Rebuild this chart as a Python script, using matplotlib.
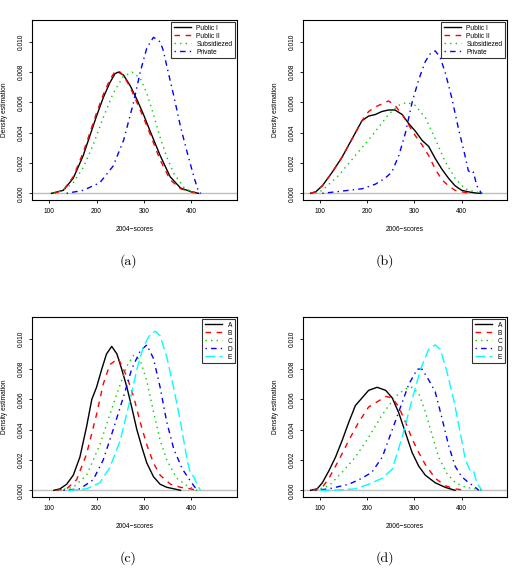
import matplotlib
matplotlib.use("Agg")
import matplotlib.pyplot as plt

plt.rcParams['font.family'] = ['Liberation Sans', 'DejaVu Sans']

# ---- panel (a): 2004 scores by school type
a_pub1_x = [105, 130, 151, 172, 186, 200, 214, 228, 239, 246, 257, 271, 285, 299, 313, 334, 355, 377, 400, 415]
a_pub1_y = [0, 0.0002, 0.0010, 0.0025, 0.0038, 0.0051, 0.0063, 0.0073, 0.0079, 0.0080, 0.0078, 0.0071,
            0.0062, 0.0052, 0.0041, 0.0025, 0.0011, 0.00035, 0.0001, 0]
a_pub2_x = [110, 130, 151, 172, 186, 200, 214, 228, 240, 250, 260, 271, 285, 299, 313, 334, 355, 377, 400, 420]
a_pub2_y = [0, 0.0002, 0.0011, 0.0027, 0.0040, 0.0053, 0.0065, 0.0075, 0.0081, 0.0080, 0.0076, 0.0070,
            0.0060, 0.0050, 0.0039, 0.0022, 0.0009, 0.0003, 0.0001, 0]
a_sub_x = [110, 130, 151, 172, 193, 214, 235, 256, 275, 292, 306, 320, 334, 348, 363, 384, 405]
a_sub_y = [0, 0.0002, 0.0007, 0.0017, 0.0032, 0.0050, 0.0066, 0.0077, 0.0080, 0.0076, 0.0066, 0.0052,
           0.0037, 0.0024, 0.0013, 0.0004, 0]
a_priv_x = [137, 172, 207, 235, 257, 278, 292, 306, 320, 334, 341, 348, 363, 377, 391, 405, 415, 420]
a_priv_y = [0, 0.0002, 0.0007, 0.0018, 0.0035, 0.0060, 0.0080, 0.0096, 0.0103, 0.0100, 0.0094, 0.0084,
            0.0064, 0.0044, 0.0027, 0.0011, 0.0001, 0]

# ---- panel (b): 2006 scores by school type
b_pub1_x = [80, 91, 105, 126, 147, 168, 189, 203, 217, 231, 245, 259, 274, 288, 302, 316, 330, 344, 358,
            372, 386, 400, 414, 428, 440]
b_pub1_y = [0, 0.0001, 0.0005, 0.0014, 0.0024, 0.0036, 0.0048, 0.0051, 0.0052, 0.0054, 0.0055, 0.0055,
            0.0052, 0.0046, 0.0041, 0.0035, 0.0031, 0.0023, 0.0016, 0.0010, 0.0005, 0.0002, 0.0001,
            0.00003, 0]
b_pub2_x = [80, 91, 105, 126, 147, 168, 189, 203, 217, 231, 245, 259, 274, 288, 302, 316, 330, 344, 358,
            372, 386, 400, 420]
b_pub2_y = [0, 0.0001, 0.0005, 0.0014, 0.0024, 0.0036, 0.0048, 0.0054, 0.0057, 0.0059, 0.0061, 0.0058,
            0.0052, 0.0045, 0.0038, 0.0032, 0.0025, 0.0016, 0.0009, 0.0005, 0.0002, 0.0001, 0]
b_sub_x = [90, 105, 140, 175, 210, 245, 266, 284, 302, 323, 344, 365, 386, 407, 428, 445]
b_sub_y = [0, 0.0002, 0.0012, 0.0025, 0.0038, 0.0052, 0.0058, 0.0060, 0.0058, 0.0050, 0.0036, 0.0021,
           0.0010, 0.0003, 0.0001, 0]
b_priv_x = [105, 161, 189, 217, 238, 252, 267, 281, 295, 309, 323, 333, 344, 354, 365, 379, 393, 407,
            414, 421, 425, 432, 442]
b_priv_y = [0, 0.0002, 0.0003, 0.0006, 0.0010, 0.0014, 0.0025, 0.0040, 0.0060, 0.0075, 0.0087, 0.0092,
            0.0094, 0.0090, 0.0080, 0.0063, 0.0043, 0.0025, 0.0015, 0.0013, 0.0014, 0.0005, 0]

# ---- panel (c): 2004 scores by group A-E
c_A_x = [110, 123, 137, 151, 165, 179, 190, 200, 211, 221, 232, 243, 253, 264, 274, 285, 296, 306, 320,
         334, 348, 363, 377]
c_A_y = [0, 0.0001, 0.0004, 0.0010, 0.0022, 0.0042, 0.0060, 0.0068, 0.0080, 0.0090, 0.0095, 0.0090,
         0.0080, 0.0068, 0.0055, 0.0040, 0.0028, 0.0018, 0.0009, 0.0004, 0.0002, 0.0001, 0]
c_B_x = [115, 137, 158, 179, 200, 214, 228, 246, 264, 278, 292, 306, 320, 334, 356, 377, 398, 412]
c_B_y = [0, 0.0001, 0.0007, 0.0024, 0.0050, 0.0070, 0.0083, 0.0087, 0.0075, 0.0062, 0.0045, 0.0030,
         0.0018, 0.0010, 0.0004, 0.0002, 0.0001, 0]
c_C_x = [120, 151, 179, 207, 228, 250, 264, 278, 292, 306, 320, 334, 348, 369, 391, 412]
c_C_y = [0, 0.0002, 0.0010, 0.0030, 0.0050, 0.0070, 0.0082, 0.0089, 0.0086, 0.0072, 0.0052, 0.0033,
         0.0020, 0.0008, 0.0003, 0]
c_D_x = [130, 165, 193, 214, 235, 257, 274, 292, 306, 320, 334, 348, 363, 381, 398, 412]
c_D_y = [0, 0.0001, 0.0007, 0.0020, 0.0040, 0.0062, 0.0080, 0.0092, 0.0096, 0.0087, 0.0068, 0.0045,
         0.0027, 0.0014, 0.0006, 0]
c_E_x = [140, 179, 207, 228, 250, 271, 285, 299, 313, 324, 334, 348, 363, 377, 391, 398, 405, 412, 419]
c_E_y = [0, 0.0001, 0.0005, 0.0015, 0.0033, 0.0060, 0.0080, 0.0095, 0.0103, 0.0105, 0.0102, 0.0088,
         0.0067, 0.0045, 0.0020, 0.0011, 0.0009, 0.0004, 0]

# ---- panel (d): 2006 scores by group A-E
d_A_x = [80, 94, 105, 119, 133, 147, 161, 175, 189, 203, 221, 239, 253, 267, 281, 295, 309, 323, 344,
         365, 386]
d_A_y = [0, 0.0001, 0.0005, 0.0013, 0.0022, 0.0033, 0.0045, 0.0056, 0.0061, 0.0066, 0.0068, 0.0066,
         0.0061, 0.0051, 0.0038, 0.0025, 0.0016, 0.0010, 0.0005, 0.0002, 0]
d_B_x = [85, 105, 119, 140, 161, 182, 203, 224, 239, 253, 267, 281, 295, 309, 323, 344, 365, 386, 408]
d_B_y = [0, 0.0002, 0.0008, 0.0020, 0.0033, 0.0045, 0.0055, 0.0059, 0.0062, 0.0061, 0.0055, 0.0045,
         0.0034, 0.0025, 0.0017, 0.0008, 0.0003, 0.0001, 0]
d_C_x = [90, 119, 147, 175, 203, 232, 260, 281, 295, 309, 323, 337, 351, 369, 387, 408, 429, 443]
d_C_y = [0, 0.0003, 0.0012, 0.0022, 0.0035, 0.0050, 0.0062, 0.0067, 0.0068, 0.0064, 0.0052, 0.0037,
         0.0022, 0.0011, 0.0005, 0.0002, 0.0001, 0]
d_D_x = [90, 119, 161, 189, 210, 232, 253, 274, 288, 306, 316, 330, 344, 358, 372, 386, 400, 415, 429, 436]
d_D_y = [0, 0.0001, 0.0004, 0.0008, 0.0012, 0.0022, 0.0040, 0.0058, 0.0070, 0.0080, 0.0080, 0.0073,
         0.0065, 0.0048, 0.0030, 0.0016, 0.0009, 0.0005, 0.0002, 0]
d_E_x = [100, 126, 175, 203, 232, 253, 274, 295, 313, 330, 344, 355, 369, 383, 397, 408, 418, 425, 432, 443]
d_E_y = [0, 0, 0.0001, 0.0004, 0.0008, 0.0014, 0.0035, 0.0060, 0.0080, 0.0093, 0.0096, 0.0093, 0.0078,
         0.0060, 0.0038, 0.0020, 0.0013, 0.0013, 0.0005, 0]

school_labels = ["Public I", "Public II", "Subsidiezed", "Private"]
group_labels = ["A", "B", "C", "D", "E"]
panel_tags = ["(a)", "(b)", "(c)", "(d)"]
xlabels = ["2004\u2212scores", "2006\u2212scores", "2004\u2212scores", "2006\u2212scores"]

# R default palette and line types
colors = ["black", "#FF0000", "#00CD00", "#0000FF", "#00FFFF"]
ltys = ["-", (0, (4, 4)), (0, (1, 3)), (0, (1, 3, 4, 3)), (0, (7, 3))]

panels = [
    ([(a_pub1_x, a_pub1_y), (a_pub2_x, a_pub2_y), (a_sub_x, a_sub_y), (a_priv_x, a_priv_y)], school_labels),
    ([(b_pub1_x, b_pub1_y), (b_pub2_x, b_pub2_y), (b_sub_x, b_sub_y), (b_priv_x, b_priv_y)], school_labels),
    ([(c_A_x, c_A_y), (c_B_x, c_B_y), (c_C_x, c_C_y), (c_D_x, c_D_y), (c_E_x, c_E_y)], group_labels),
    ([(d_A_x, d_A_y), (d_B_x, d_B_y), (d_C_x, d_C_y), (d_D_x, d_D_y), (d_E_x, d_E_y)], group_labels),
]

W, H = 513, 570
fig = plt.figure(figsize=(W / 100, H / 100), dpi=100)

# axes boxes in pixels: left, top, right, bottom
boxes = [(32, 20, 237, 200), (303, 20, 507, 200), (32, 317, 237, 497), (303, 317, 507, 497)]
tag_pos = [(0.25, 261), (0.75, 261), (0.25, 558), (0.75, 558)]

for i, (series, labels) in enumerate(panels):
    l, t, r, b = boxes[i]
    ax = fig.add_axes([l / W, 1 - b / H, (r - l) / W, (b - t) / H])
    ax.axhline(0, color="#BEBEBE", lw=1, zorder=1)
    for k, (xs, ys) in enumerate(series):
        ax.plot(xs, ys, color=colors[k], linestyle=ltys[k], lw=1.0, label=labels[k], zorder=2)
    ax.set_xlim(64, 496)
    ax.set_ylim(-0.00044, 0.01144)
    ax.set_xticks([100, 200, 300, 400])
    ax.set_yticks([0, 0.002, 0.004, 0.006, 0.008, 0.010])
    ax.set_yticklabels(["0.000", "0.002", "0.004", "0.006", "0.008", "0.010"])
    ax.tick_params(length=2.5, width=0.6, labelsize=4.8, pad=3)
    ax.tick_params(axis="y", labelrotation=90)
    for lab in ax.get_yticklabels():
        lab.set_va("center")
    for sp in ax.spines.values():
        sp.set_linewidth(0.8)
    ax.set_xlabel(xlabels[i], fontsize=4.8, labelpad=8)
    ax.set_ylabel("Density estimation", fontsize=4.8, labelpad=7)
    leg = ax.legend(loc="upper right", fontsize=4.8, frameon=True, fancybox=False,
                    edgecolor="black", borderaxespad=0.3, handlelength=2.6,
                    labelspacing=0.15, borderpad=0.4, handletextpad=0.8)
    leg.get_frame().set_linewidth(0.8)
    tx, ty = tag_pos[i]
    fig.text(tx, 1 - ty / H, panel_tags[i], fontname="cmr10", fontsize=10, ha="center", va="center")

fig.savefig("out.png", dpi=100)
